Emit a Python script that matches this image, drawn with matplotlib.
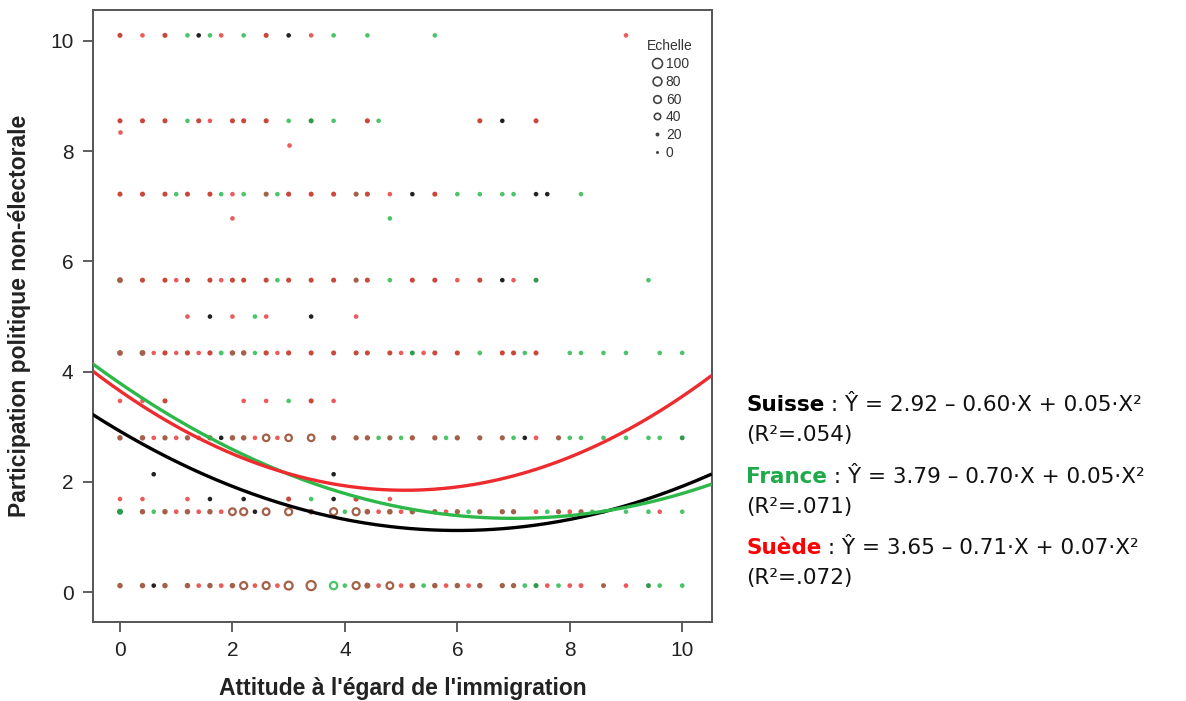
import matplotlib
matplotlib.use("Agg")
import matplotlib.pyplot as plt
from matplotlib.lines import Line2D
import numpy as np

# quadratic fits read from the annotation
fit_names = ["Suisse", "France", "Suède"]
fit_b0 = [2.92, 3.79, 3.65]
fit_b1 = [-0.60, -0.70, -0.71]
fit_b2 = [0.05, 0.05, 0.07]
fit_r2 = [".054", ".071", ".072"]

# scatter rows: x positions, colour codes (r=Suède, g=France, k=Suisse, mixes for overlaps)
y_10_1 = 10.1
x_10_1 = [0, 0.4, 0.8, 1.2, 1.4, 1.6, 1.8, 2.2, 2.6, 3.0, 3.4, 3.8, 4.4, 5.6, 9.0]
c_10_1 = "drdgkgrgdkrgggr"

y_8_55 = 8.55
x_8_55 = [0, 0.4, 0.8, 1.2, 1.4, 1.6, 2.0, 2.2, 2.6, 3.0, 3.4, 3.8, 4.4, 4.6, 6.4, 6.8, 7.4]
c_8_55 = "dddgdrdddgGgdgdkd"

y_8_34, x_8_34, c_8_34 = 8.34, [0], "r"
y_8_11, x_8_11, c_8_11 = 8.11, [3.0], "r"

y_7_22 = 7.22
x_7_22 = [0, 0.4, 0.8, 1.0, 1.2, 1.6, 1.8, 2.0, 2.2, 2.6, 2.8, 3.0, 3.4, 3.8, 4.2, 4.4,
          4.8, 5.2, 5.6, 6.0, 6.4, 6.8, 7.0, 7.4, 7.6, 8.2]
c_7_22 = "dddgddgrgbgdddbdrkdggggkkg"

y_6_78, x_6_78, c_6_78 = 6.78, [2.0, 4.8], "rg"

y_5_66 = 5.66
x_5_66 = [0, 0.4, 0.8, 1.0, 1.2, 1.6, 1.8, 2.0, 2.2, 2.6, 2.8, 3.0, 3.4, 3.8, 4.2, 4.4,
          4.8, 5.2, 5.6, 6.0, 6.4, 6.8, 7.0, 7.4, 9.4]
c_5_66 = "bddrddrdddgdddbdgddrdkrGg"
n_5_66 = [32, 18, 18, 10, 18, 18, 10, 18, 18, 18, 10, 18, 18, 18, 20, 18,
          10, 18, 18, 10, 18, 10, 10, 15, 10]

y_5_0 = 5.0
x_5_0 = [1.2, 1.6, 2.0, 2.4, 2.6, 3.4, 4.2]
c_5_0 = "rkrgrkr"

y_4_34 = 4.34
x_4_34 = [0, 0.4, 0.6, 0.8, 1.0, 1.2, 1.4, 1.6, 1.8, 2.0, 2.2, 2.4, 2.6, 2.8, 3.0, 3.4,
          3.8, 4.2, 4.4, 4.8, 5.0, 5.2, 5.4, 5.6, 6.0, 6.4, 6.8, 7.0, 7.2, 7.4, 8.0, 8.2,
          8.6, 9.0, 9.6, 10.0]
c_4_34 = "bbrdrdrdgbbgdrddddddrGrddgddgdgggggg"
n_4_34 = [30, 32, 8, 20, 8, 20, 10, 20, 15, 25, 25, 8, 20, 8, 20, 18,
          18, 18, 18, 18, 10, 15, 10, 18, 18, 12, 18, 18, 10, 18, 10, 10,
          10, 10, 10, 10]

y_3_47 = 3.47
x_3_47 = [0, 0.4, 0.8, 2.2, 2.6, 3.0, 3.4, 3.8]
c_3_47 = "rrdrrgdr"

y_2_8 = 2.8
x_2_8 = [0, 0.4, 0.6, 0.8, 1.0, 1.2, 1.4, 1.6, 1.8, 2.0, 2.2, 2.4, 2.6, 2.8, 3.0, 3.4,
         3.8, 4.2, 4.4, 4.6, 4.8, 5.0, 5.2, 5.6, 5.8, 6.0, 6.4, 6.8, 7.0, 7.2, 7.4, 7.8,
         8.0, 8.2, 8.6, 9.0, 9.4, 9.6, 10.0]
c_2_8 = "bbrbrbrbkbbrbrbbbbbgbgbbgbbbgkrbggggggG"
n_2_8 = [25, 25, 10, 22, 12, 22, 12, 22, 10, 25, 25, 10, 42, 10, 42, 42,
         22, 22, 22, 10, 22, 10, 22, 22, 10, 22, 20, 20, 10, 10, 12, 20,
         10, 10, 10, 10, 10, 10, 15]

y_2_14, x_2_14, c_2_14 = 2.14, [0.6, 3.8], "kk"

y_1_69 = 1.69
x_1_69 = [0, 0.4, 1.2, 1.6, 2.2, 3.0, 3.4, 3.8, 4.2, 4.8]
c_1_69 = "rrrkkdgkdr"

y_1_46 = 1.46
x_1_46 = [0, 0.4, 0.6, 0.8, 1.0, 1.2, 1.4, 1.6, 1.8, 2.0, 2.2, 2.4, 2.6, 3.0, 3.4, 3.8,
          4.0, 4.2, 4.4, 4.6, 4.8, 5.0, 5.2, 5.6, 5.8, 6.0, 6.2, 6.4, 6.8, 7.0, 7.4, 7.6,
          7.8, 8.0, 8.2, 8.4, 8.6, 9.0, 9.4, 9.6, 10.0]
c_1_46 = "Gbgbrbrbrbbkbbbbgbbrbrbbrbgbbbrgbrbggggrg"
n_1_46 = [35, 25, 10, 25, 12, 25, 12, 25, 12, 45, 50, 10, 45, 50, 28, 50,
          10, 50, 28, 12, 28, 12, 25, 22, 12, 22, 10, 22, 22, 22, 12, 10,
          20, 12, 20, 10, 10, 10, 12, 10, 10]

y_0_12 = 0.12
x_0_12 = [0, 0.4, 0.6, 0.8, 1.2, 1.4, 1.6, 1.8, 2.0, 2.2, 2.4, 2.6, 2.8, 3.0, 3.4, 3.8,
          4.0, 4.2, 4.4, 4.6, 4.8, 5.0, 5.2, 5.4, 5.6, 5.8, 6.0, 6.2, 6.4, 6.8, 7.0, 7.2,
          7.4, 7.6, 7.8, 8.0, 8.2, 8.6, 9.0, 9.4, 9.6, 10.0]
c_0_12 = "bbkbbrbrbbrbrbbggbbrbrbgbrbrbbbgGrgrrbrGgg"
n_0_12 = [25, 25, 10, 25, 25, 12, 25, 12, 25, 50, 12, 50, 12, 65, 85, 55,
          10, 50, 35, 12, 45, 12, 30, 12, 25, 12, 25, 12, 25, 22, 22, 12,
          18, 12, 12, 12, 15, 15, 12, 15, 12, 12]

rows = [
    (y_10_1, x_10_1, c_10_1, None),
    (y_8_55, x_8_55, c_8_55, None),
    (y_8_34, x_8_34, c_8_34, None),
    (y_8_11, x_8_11, c_8_11, None),
    (y_7_22, x_7_22, c_7_22, None),
    (y_6_78, x_6_78, c_6_78, None),
    (y_5_66, x_5_66, c_5_66, n_5_66),
    (y_5_0, x_5_0, c_5_0, None),
    (y_4_34, x_4_34, c_4_34, n_4_34),
    (y_3_47, x_3_47, c_3_47, None),
    (y_2_8, x_2_8, c_2_8, n_2_8),
    (y_2_14, x_2_14, c_2_14, None),
    (y_1_69, x_1_69, c_1_69, None),
    (y_1_46, x_1_46, c_1_46, n_1_46),
    (y_0_12, x_0_12, c_0_12, n_0_12),
]

legend_counts = [100, 80, 60, 40, 20, 0]

palette = {"r": "#ec5a5a", "d": "#c9483a", "b": "#a46048", "g": "#4cc46a",
           "G": "#2f9a4a", "k": "#222222"}
line_cols = ["#000000", "#2db84a", "#ee2b2e"]
text_cols = ["#000000", "#1faa4a", "#ff0000"]


def count_to_px(n):
    return 4.0 + 0.06 * n


fig = plt.figure(figsize=(11.86, 7.01), dpi=100)
ax = fig.add_axes([93 / 1186, 1 - 622 / 701, (712 - 93) / 1186, (622 - 10) / 701])

for yv, xs, codes, counts in rows:
    if counts is None:
        counts = [18 if c in "dbG" else 10 for c in codes]
    xs = np.array(xs, dtype=float)
    cols = [palette[c] for c in codes]
    counts = np.array(counts)
    sizes = (count_to_px(counts) * 0.72) ** 2
    filled = counts < 40
    ax.scatter(xs[filled], np.full(filled.sum(), yv), s=sizes[filled],
               c=[c for c, f in zip(cols, filled) if f], linewidths=0, zorder=2)
    ax.scatter(xs[~filled], np.full((~filled).sum(), yv), s=sizes[~filled],
               facecolors="none", edgecolors=[c for c, f in zip(cols, filled) if not f],
               linewidths=1.6, zorder=2)

xx = np.linspace(-0.5, 10.5, 300)
for b0, b1, b2, col in zip(fit_b0, fit_b1, fit_b2, line_cols):
    ax.plot(xx, b0 + b1 * xx + b2 * xx ** 2, color=col, lw=2.4, zorder=3)

ax.set_xlim(-0.48, 10.53)
ax.set_ylim(-0.54, 10.56)
ax.set_xticks(range(0, 11, 2))
ax.set_yticks(range(0, 11, 2))

ax.set_xticklabels([str(v) for v in range(0, 11, 2)], family="Liberation Sans",
                   fontsize=15, color="#222222")
ax.set_yticklabels([str(v) for v in range(0, 11, 2)], family="Liberation Sans",
                   fontsize=15, color="#222222")
ax.tick_params(direction="out", length=7, width=1.1, color="#333333", pad=7)
for sp in ax.spines.values():
    sp.set_color("#555555")
    sp.set_linewidth(1.4)

ax.set_xlabel("Attitude à l'égard de l'immigration", family="Liberation Sans",
              fontsize=16.5, fontweight="bold", color="#222222", labelpad=12)
ax.set_ylabel("Participation politique non-électorale", family="Liberation Sans",
              fontsize=16.5, fontweight="bold", color="#222222", labelpad=14)

handles = []
for n in legend_counts:
    d_pt = count_to_px(n) * 0.72
    if n >= 40:
        handles.append(Line2D([], [], ls="none", marker="o", ms=d_pt,
                              mfc="none", mec="#444444", mew=1.2))
    else:
        handles.append(Line2D([], [], ls="none", marker="o", ms=d_pt * 0.75,
                              mfc="#444444", mec="none"))
leg = ax.legend(handles, [str(n) for n in legend_counts], title="Echelle",
                loc="upper right", bbox_to_anchor=(0.985, 0.968), frameon=False,
                prop={"family": "Liberation Sans", "size": 10},
                labelspacing=0.27, handlelength=0.8,
                handletextpad=0.25, borderaxespad=0.3)
leg.get_title().set_fontfamily("Liberation Sans")
leg.get_title().set_fontsize(10)
for t in leg.get_texts():
    t.set_color("#333333")
leg.get_title().set_color("#333333")

# equations on the right
renderer = fig.canvas.get_renderer()
eq_y = [405, 477, 548]
eq_size = 15.5
for name, b0, b1, b2, r2, col, yp in zip(fit_names, fit_b0, fit_b1, fit_b2,
                                         fit_r2, text_cols, eq_y):
    t = fig.text(746 / 1186, 1 - yp / 701, name, color=col, fontsize=eq_size,
                 fontweight="bold", family="DejaVu Sans", va="center")
    bb = t.get_window_extent(renderer)
    rest = " : Ŷ = %.2f – %.2f·X + %.2f·X²" % (b0, -b1, b2)
    fig.text(bb.x1 / 1186, 1 - yp / 701, rest, color="#111111", fontsize=eq_size,
             family="DejaVu Sans", va="center")
    fig.text(746 / 1186, 1 - (yp + 30) / 701, "(R²=%s)" % r2, color="#111111",
             fontsize=eq_size, family="DejaVu Sans", va="center")

fig.savefig("out.png", dpi=100)
